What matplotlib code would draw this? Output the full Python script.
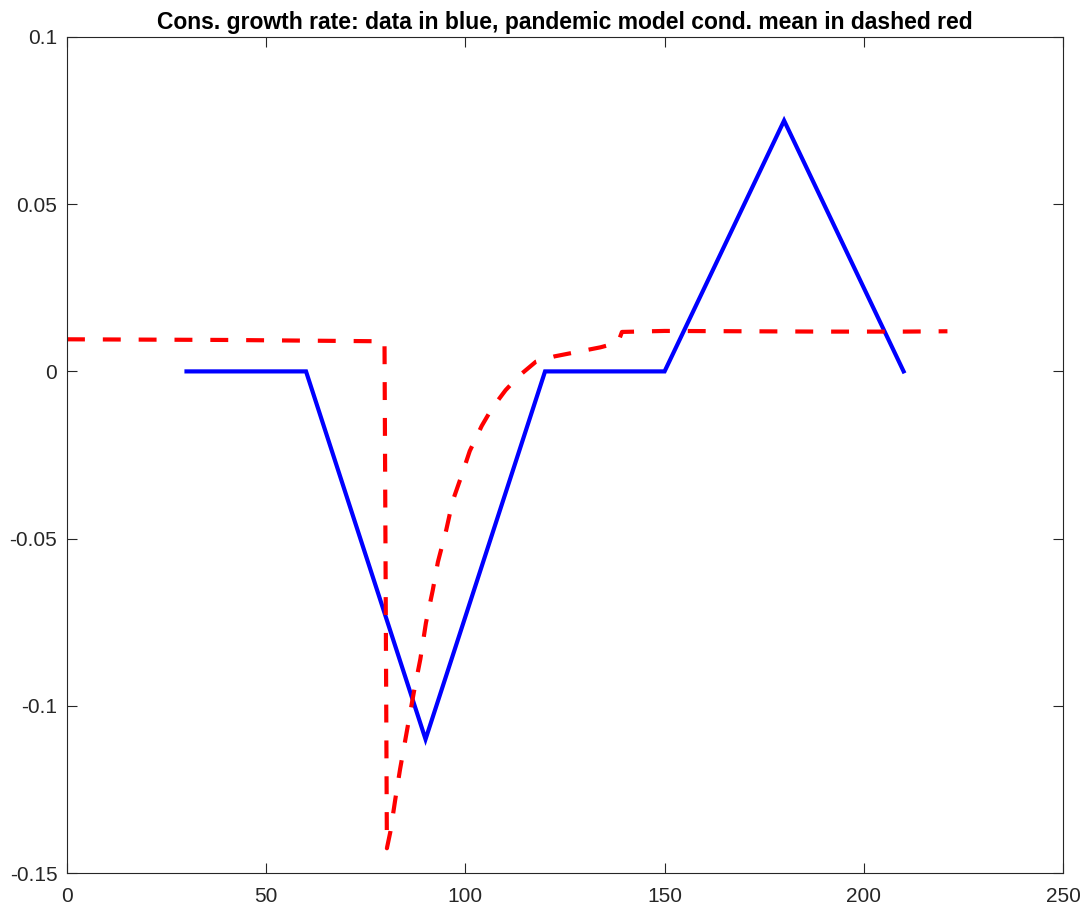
#!/usr/bin/env python3

import matplotlib
matplotlib.use("Agg")
import matplotlib.pyplot as plt

# Consumption growth data (blue)
data_x = [30, 60, 90, 120, 150, 180, 210]
data_y = [0.0, 0.0, -0.11, 0.0, 0.0, 0.075, 0.0]

# Pandemic model conditional mean (dashed red)
model_x = [0, 20, 40, 60, 79.7, 80.3, 81.2, 82.4, 83.6, 85.4, 87.1, 88.7,
           90.1, 91.8, 93.1, 95.2, 96.8, 99.0, 101.1, 104.1, 106.7, 110.1,
           113.5, 117.7, 122.4, 127.1, 133.9, 138.3, 139.3, 150, 170, 190,
           210, 221]
model_y = [0.0096, 0.0095, 0.0094, 0.0092, 0.0090, -0.1426, -0.1375, -0.128,
           -0.119, -0.107, -0.0957, -0.086, -0.0752, -0.0655, -0.057, -0.0474,
           -0.0388, -0.0313, -0.0238, -0.0163, -0.011, -0.0056, -0.0013,
           0.0029, 0.0045, 0.0056, 0.0072, 0.0086, 0.0118, 0.0121, 0.0120,
           0.0119, 0.0119, 0.0120]

xticks = [0, 50, 100, 150, 200, 250]
yticks = [-0.15, -0.1, -0.05, 0, 0.05, 0.1]
ytick_labels = ["-0.15", "-0.1", "-0.05", "0", "0.05", "0.1"]

plt.rcParams['font.family'] = ['Liberation Sans', 'DejaVu Sans']

fig = plt.figure(figsize=(10.84, 9.09), dpi=100)
ax = fig.add_axes([0.0618, 0.0396, 0.9188, 0.9197])

ax.plot(data_x, data_y, color=(0, 0, 1), linewidth=3, solid_joinstyle='miter')
ax.plot(model_x, model_y, color=(1, 0, 0), linewidth=3,
        linestyle=(0, (4.3, 4.3)))

ax.set_xlim(0, 250)
ax.set_ylim(-0.15, 0.1)
ax.set_xticks(xticks)
ax.set_xticklabels([str(t) for t in xticks])
ax.set_yticks(yticks)
ax.set_yticklabels(ytick_labels)

axis_color = (0.15, 0.15, 0.15)
for side in ax.spines.values():
    side.set_color(axis_color)
    side.set_linewidth(0.8)
ax.tick_params(direction='in', length=7, width=0.8, colors=axis_color,
               labelsize=15, top=True, right=True, pad=7)
ax.tick_params(axis='x', pad=10)

ax.set_title("Cons. growth rate: data in blue, pandemic model cond. mean in dashed red",
             fontsize=16.5, fontweight='bold', pad=6)

fig.savefig("out.png", dpi=100)
